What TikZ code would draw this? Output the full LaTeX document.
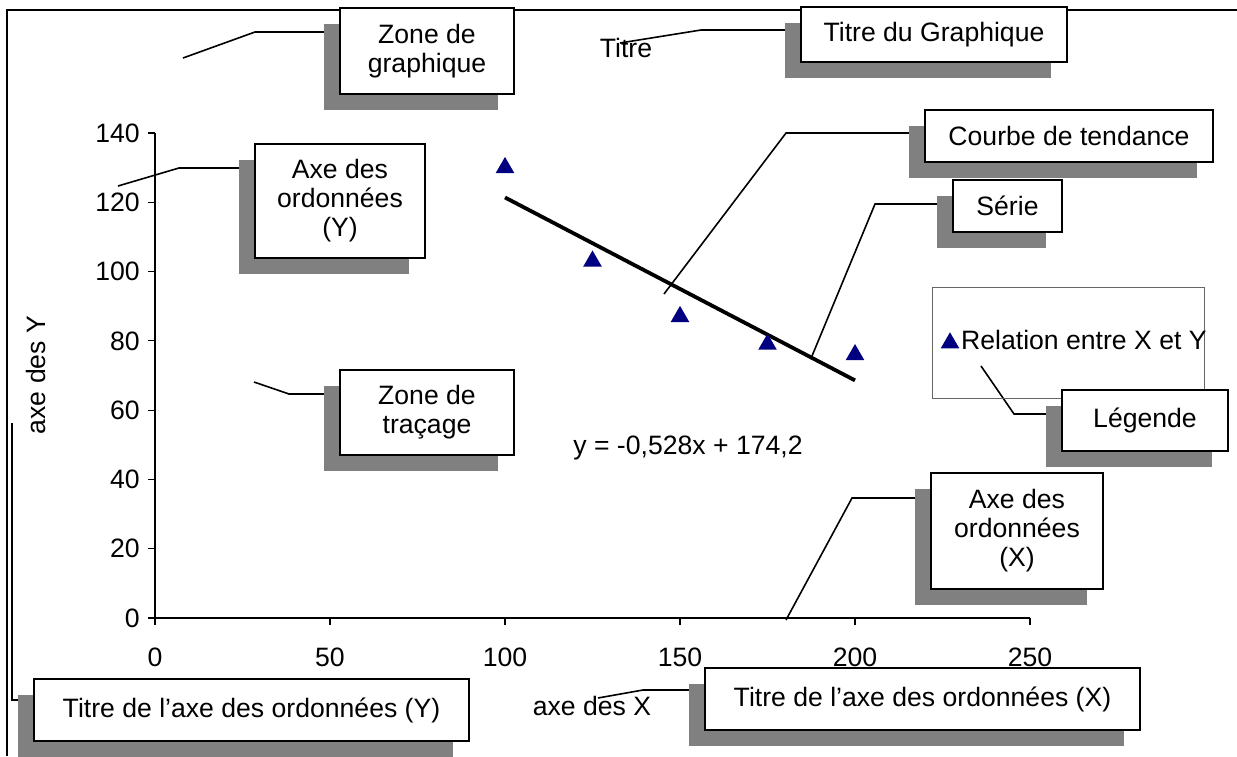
\documentclass[tikz,border=0pt]{standalone}
\usepackage{fontspec}
\setmainfont{Liberation Sans}
\usetikzlibrary{shapes.geometric,shadows}
\definecolor{shadowgray}{RGB}{128,128,128}
\definecolor{markerblue}{RGB}{0,0,128}
\pgfdeclarelayer{background}
\pgfsetlayers{background,main}
\begin{document}
\begin{tikzpicture}[x=1pt,y=-1pt,
  lbl/.style={font=\fontsize{26.6}{29}\selectfont, inner sep=0pt},
  callbox/.style={draw, line width=2pt, fill=white, align=center, inner sep=0pt,
    font=\fontsize{26.6}{29}\selectfont,
    drop shadow={shadow xshift=-16pt, shadow yshift=-16pt, fill=shadowgray, opacity=1}},
  leader/.style={line width=1.6pt},
  tri/.style={regular polygon, regular polygon sides=3, fill=markerblue, inner sep=0pt, minimum size=21.5pt},
  axisline/.style={line width=1.2pt},
]
\useasboundingbox (0,0) rectangle (1237,756);
% chart area frame
\draw[line width=1.2pt] (1237,10) -- (7,10) -- (7,756);

% plot
\begin{scope}[shift={(155,618)}, x=3.5pt, y=3.464pt]
  \coordinate (origin) at (0,0);
  \coordinate (xend) at (250,0);
  \coordinate (yend) at (0,140);
  \draw[axisline] (xend) -- (origin) -- (yend);
  \foreach \v in {0,20,...,140} {
    \draw[axisline] (0,\v) -- (-2,\v);
    \node[lbl, anchor=east] (yl\v) at (-4.3,\v) {\v};
  }
  \foreach \v in {0,50,...,250} {
    \draw[axisline] (\v,0) -- (\v,-2.1);
    \node[lbl] (xl\v) at (\v,-11.3) {\v};
  }
  \coordinate (trendA) at (100,121.4);
  \coordinate (trendB) at (200,68.6);
  \draw[line width=3.8pt] (trendA) -- (trendB);
  \node[tri] (p1) at (100,130) {};
  \node[tri] (p2) at (125,103) {};
  \node[tri] (p3) at (150,87) {};
  \node[tri] (p4) at (175,79) {};
  \node[tri] (p5) at (200,76) {};
\end{scope}

% legend
\node[draw=black!60, line width=1pt, minimum width=272pt, minimum height=111pt, inner sep=0pt] (legend) at (1068.5,342.5) {};
\node[tri] (legmark) at (950,343) {};
\node[lbl, anchor=west] (legtext) at (961,340) {Relation entre X et Y};

% free texts
\node[lbl] (titre) at (626,48) {Titre};
\node[lbl] (axex) at (592,706) {axe des X};
\node[lbl, rotate=90] (axey) at (36,375) {axe des Y};
\node[lbl] (eq) at (688,448) {y = -0,528x + 174,2};

% callout boxes
\node[callbox, minimum width=174pt, minimum height=86pt] (zg) at (427,51) {Zone de\\graphique};
\node[callbox, minimum width=266pt, minimum height=55pt] (tg) at (934,34.5) {Titre du Graphique};
\node[callbox, minimum width=288pt, minimum height=52pt] (ct) at (1069,136) {Courbe de tendance};
\node[callbox, minimum width=109pt, minimum height=52pt] (se) at (1007.5,206) {Série};
\node[callbox, minimum width=170pt, minimum height=114pt] (ay) at (340,201) {Axe des\\ordonnées\\(Y)};
\node[callbox, minimum width=174pt, minimum height=85pt] (zt) at (427,412.5) {Zone de\\traçage};
\node[callbox, minimum width=166pt, minimum height=61pt] (lg) at (1145,420.5) {Légende};
\node[callbox, minimum width=172pt, minimum height=116pt] (ax) at (1017,531) {Axe des\\ordonnées\\(X)};
\node[callbox, minimum width=435pt, minimum height=62pt] (ty) at (251.5,710) {Titre de l’axe des ordonnées (Y)};
\node[callbox, minimum width=435pt, minimum height=62pt] (tx) at (922.5,699) {Titre de l’axe des ordonnées (X)};

% leader lines
\coordinate (zga) at (183,58);  \coordinate (zgb) at (255,32);
\coordinate (tga) at (620,43);  \coordinate (tgb) at (701,30);
\coordinate (cta) at (664,294); \coordinate (ctb) at (786,133);
\coordinate (sea) at (812,356); \coordinate (seb) at (875,204);
\coordinate (aya) at (118,186); \coordinate (ayb) at (179,168);
\coordinate (zta) at (254,382); \coordinate (ztb) at (289,394);
\coordinate (lga) at (981,366); \coordinate (lgb) at (1014,414);
\coordinate (axa) at (786,620); \coordinate (axb) at (852,498);
\coordinate (tya) at (12,423);  \coordinate (tyb) at (12,700);
\coordinate (txa) at (598,698); \coordinate (txb) at (643,690);
\begin{pgfonlayer}{background}
  \draw[leader] (zga) -- (zgb) -- (zgb -| zg.west);
  \draw[leader] (tga) -- (tgb) -- (tgb -| tg.west);
  \draw[leader] (cta) -- (ctb) -- (ctb -| ct.west);
  \draw[leader] (sea) -- (seb) -- (seb -| se.west);
  \draw[leader] (aya) -- (ayb) -- (ayb -| ay.west);
  \draw[leader] (zta) -- (ztb) -- (ztb -| zt.west);
  \draw[leader] (lga) -- (lgb) -- (lgb -| lg.west);
  \draw[leader] (axa) -- (axb) -- (axb -| ax.west);
  \draw[leader] (tya) -- (tyb) -- (tyb -| ty.west);
  \draw[leader] (txa) -- (txb) -- (txb -| tx.west);
\end{pgfonlayer}
\end{tikzpicture}
\end{document}
